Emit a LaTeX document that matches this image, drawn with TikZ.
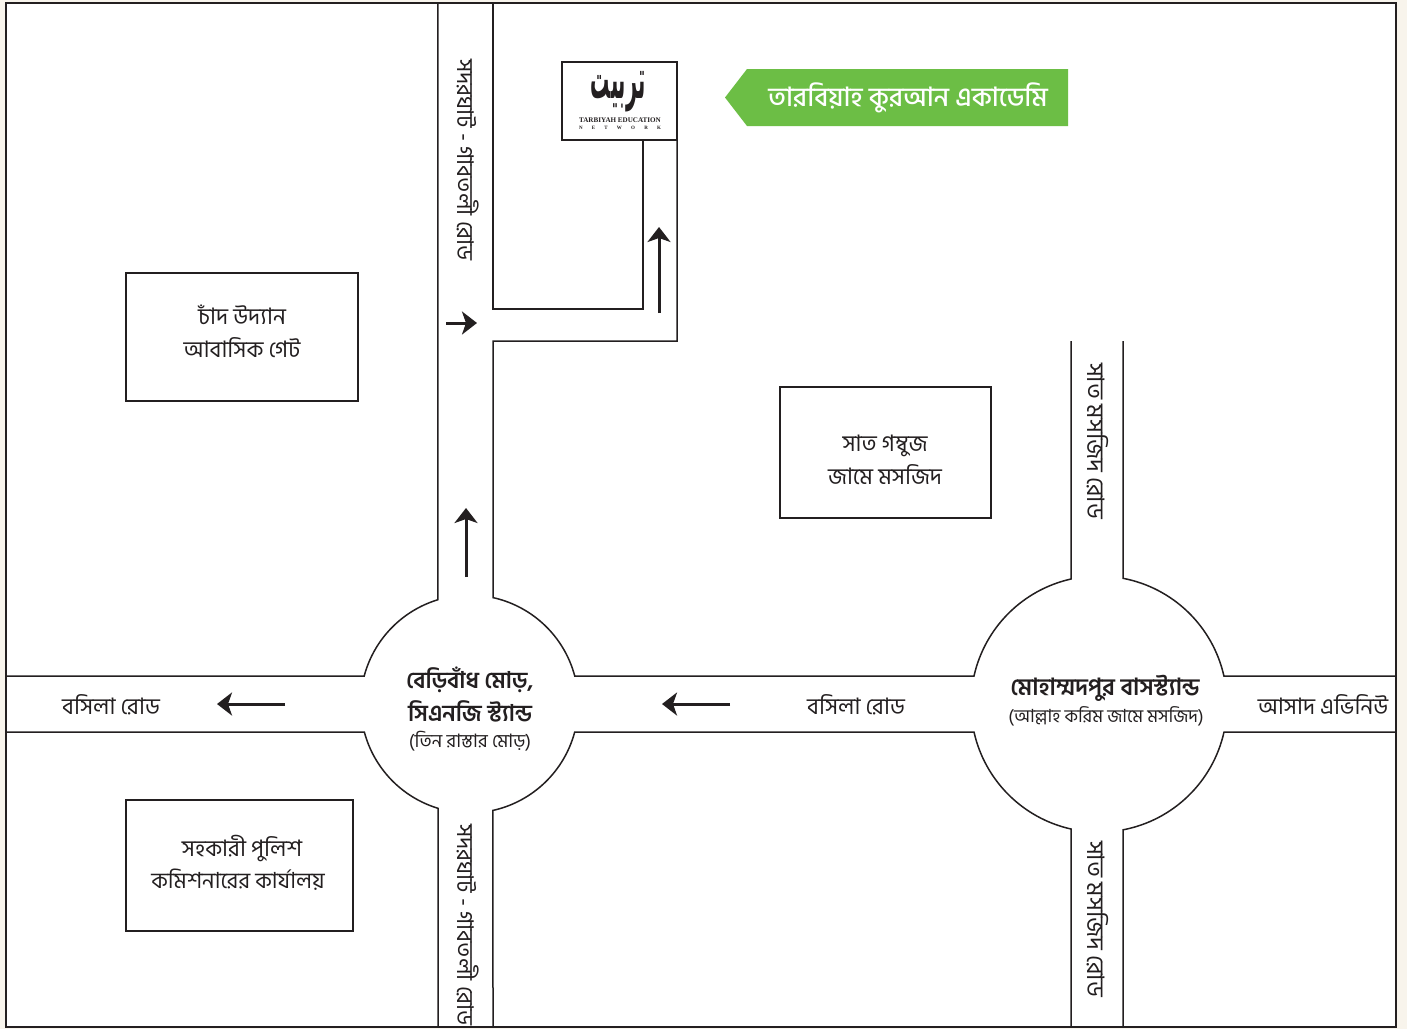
\documentclass[tikz,border=0pt]{standalone}
\usepackage{fontspec}
\usetikzlibrary{arrows.meta}
\newfontfamily\bn[Script=Bengali]{Hind Siliguri}
\newfontfamily\bnm[Script=Bengali]{Hind Siliguri Medium}
\newfontfamily\bnb[Script=Bengali]{Hind Siliguri SemiBold}
\newfontfamily\arb[Script=Arabic]{DejaVu Sans}
\newfontfamily\lat{Liberation Serif}
\TeXXeTstate=1
\definecolor{paper}{HTML}{F8F4EC}
\definecolor{ink}{HTML}{231F20}
\definecolor{leaf}{HTML}{6CBE45}
\newcommand{\fs}[1]{\fontsize{#1pt}{#1pt}\selectfont}
\tikzset{
  x=1pt,y=-1pt,
  road/.style={draw=ink,line width=1.5pt,line join=miter},
  box/.style={draw=ink,line width=1.5pt,fill=white},
  lbl/.style={text=ink,inner sep=0pt,font=\bn\fs{22.7}},
  lblb/.style={text=ink,inner sep=0pt,font=\bnb\fs{23}},
  lbls/.style={text=ink,inner sep=0pt,font=\bn\fs{18.5}},
  vlbl/.style={text=ink,inner sep=0pt,font=\bn\fs{23},rotate=-90},
  dir/.style={draw=ink,line width=3pt,-{Stealth[length=15pt,width=23pt,inset=4pt]},shorten >=-1pt},
}
\begin{document}
\begin{tikzpicture}
\useasboundingbox (0,0) rectangle (1407,1029);
\fill[paper] (0,0) rectangle (1407,1029);
\draw[fill=white,draw=ink,line width=2pt] (6,2.5) rectangle (1396,1027);
% roads
\draw[road] (6,676) -- (364.2,676) arc[start angle=194.9,end angle=253.1,radius=109] -- (437.9,2.5);
\draw[road] (493,2.5) -- (493,309) -- (643,309) -- (643,140);
\draw[road] (677,140) -- (677,341) -- (493,341) -- (493,597.6)
  arc[start angle=282.5,end angle=345.1,radius=109] -- (974,676)
  arc[start angle=192.6,end angle=257.4,radius=128] -- (1071,341);
\draw[road] (1123,341) -- (1123,578.3) arc[start angle=280.8,end angle=347.4,radius=128] -- (1396,676);
\draw[road] (1396,732) -- (1224,732) arc[start angle=12.6,end angle=79.2,radius=128] -- (1123,1027);
\draw[road] (1071,1027) -- (1071,829) arc[start angle=102.6,end angle=167.4,radius=128] -- (574.7,732)
  arc[start angle=14.9,end angle=77.5,radius=109] -- (493,1027);
\draw[road] (438,1027) -- (438,808.3) arc[start angle=106.9,end angle=165.1,radius=109] -- (6,732);
% boxes
\node[box,minimum width=115pt,minimum height=78pt,inner sep=0pt] (logo) at (619.5,101) {};
\node[text=ink,inner sep=0pt,font=\arb\bfseries\fs{30},xscale=.64,yscale=1.85,transform shape] (logoar) at (618,92) {\beginR تربيت\endR};
\node[text=ink,inner sep=0pt,font=\lat\bfseries\fs{7.1}] (logoen) at (620,120.5) {TARBIYAH EDUCATION};
\node[text=ink,inner sep=0pt,font=\lat\bfseries\fs{5}] (logonet) at (620,128) {\hbox to 82pt{N\hfill E\hfill T\hfill W\hfill O\hfill R\hfill K}};
\node[box,minimum width=232pt,minimum height=128pt] (chand) at (242,337) {};
\node[box,minimum width=211pt,minimum height=131pt] (gombuj) at (885.5,452.5) {};
\node[box,minimum width=227pt,minimum height=131pt] (police) at (239.5,865.5) {};
\node[lbl] (t1) at (242,315) {চাঁদ উদ্যান};
\node[lbl] (t2) at (242,348) {আবাসিক গেট};
\node[lbl] (t3) at (885,446) {সাত গম্বুজ};
\node[lbl] (t4) at (885,475) {জামে মসজিদ};
\node[lbl] (t5) at (242,848) {সহকারী পুলিশ};
\node[lbl,font=\bn\fs{22.2}] (t6) at (238,880) {কমিশনারের কার্যালয়};
\node[lbl] (t7) at (111,705) {বসিলা রোড};
\node[lbl] (t8) at (856,705) {বসিলা রোড};
\node[lbl] (t9) at (1323,704) {আসাদ এভিনিউ};
\node[lblb] (c1) at (470,680) {বেড়িবাঁধ মোড়,};
\node[lblb] (c2) at (470,711) {সিএনজি স্ট্যান্ড};
\node[lbls] (c3) at (470,741) {(তিন রাস্তার মোড়)};
\node[lblb,font=\bnb\fs{23.6}] (d1) at (1105,688) {মোহাম্মদপুর বাসস্ট্যান্ড};
\node[lbls,font=\bn\fs{18.1}] (d2) at (1106,716) {(আল্লাহ করিম জামে মসজিদ)};
\node[vlbl] (v1) at (468,160) {সদরঘাট - গাবতলী রোড};
\node[vlbl] (v2) at (468,925) {সদরঘাট - গাবতলী রোড};
\node[vlbl,font=\bn\fs{24}] (v3) at (1098,441) {সাত মসজিদ রোড};
\node[vlbl,font=\bn\fs{24}] (v4) at (1098,919) {সাত মসজিদ রোড};
% banner
\fill[leaf] (725,97.5) -- (747,69) -- (1068,69) -- (1068,126) -- (747,126) -- cycle;
\node[text=white,inner sep=0pt,font=\bnm\fs{26.6}] (ban) at (908,98) {তারবিয়াহ কুরআন একাডেমি};
% arrows
\coordinate (a1s) at (446,323); \coordinate (a1e) at (476,323);
\coordinate (a2s) at (659,313); \coordinate (a2e) at (659,228);
\coordinate (a3s) at (466,577); \coordinate (a3e) at (466,509);
\coordinate (a4s) at (285,704); \coordinate (a4e) at (218,704);
\coordinate (a5s) at (730,704); \coordinate (a5e) at (663,704);
\draw[dir] (a1s) -- (a1e);
\draw[dir] (a2s) -- (a2e);
\draw[dir] (a3s) -- (a3e);
\draw[dir] (a4s) -- (a4e);
\draw[dir] (a5s) -- (a5e);
\end{tikzpicture}
\end{document}
